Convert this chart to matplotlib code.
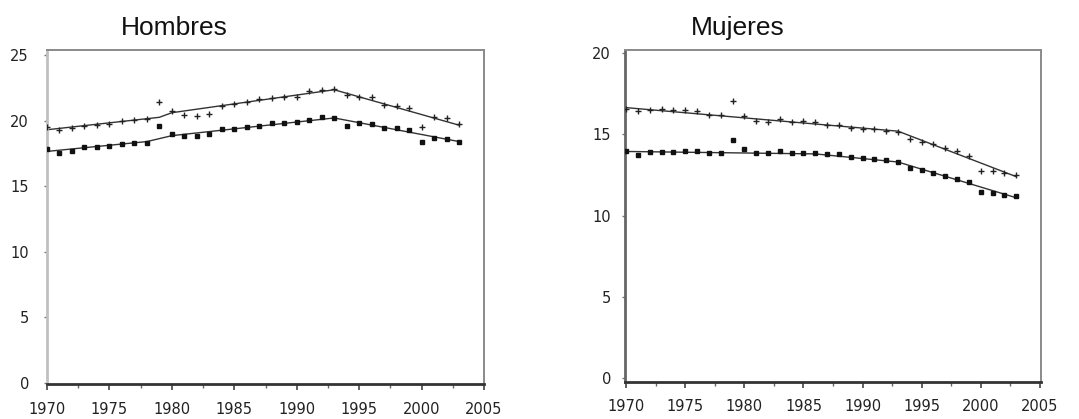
import matplotlib
matplotlib.use("Agg")
import matplotlib.pyplot as plt
import numpy as np
from matplotlib.ticker import MultipleLocator

years = list(range(1970, 2004))

# Hombres (men)
men_plus = [19.52, 19.27, 19.44, 19.62, 19.70, 19.77, 19.95, 20.03, 20.13, 21.39,
            20.71, 20.46, 20.38, 20.53, 21.09, 21.29, 21.39, 21.65, 21.72, 21.80,
            21.80, 22.23, 22.35, 22.40, 21.97, 21.80, 21.80, 21.20, 21.14, 20.96,
            19.52, 20.28, 20.20, 19.77]
men_sq = [17.85, 17.54, 17.67, 18.00, 18.00, 18.10, 18.25, 18.30, 18.30, 19.62,
          19.00, 18.80, 18.86, 18.94, 19.32, 19.32, 19.52, 19.62, 19.82, 19.82,
          19.87, 20.03, 20.28, 20.20, 19.62, 19.82, 19.77, 19.44, 19.44, 19.27,
          18.35, 18.68, 18.60, 18.35]
men_plus_trend_x = [1970, 1979, 1980, 1993, 2003]
men_plus_trend_y = [19.30, 20.25, 20.60, 22.35, 19.65]
men_sq_trend_x = [1970, 1978, 1980, 1993, 2003]
men_sq_trend_y = [17.65, 18.40, 18.85, 20.20, 18.40]

# Mujeres (women)
women_plus = [16.59, 16.43, 16.53, 16.59, 16.53, 16.49, 16.43, 16.22, 16.22, 17.04,
              16.12, 15.82, 15.76, 15.96, 15.76, 15.82, 15.78, 15.61, 15.60, 15.41,
              15.33, 15.35, 15.20, 15.15, 14.69, 14.55, 14.39, 14.15, 13.98, 13.70,
              12.76, 12.76, 12.60, 12.52]
women_sq = [13.98, 13.71, 13.92, 13.92, 13.92, 13.98, 13.98, 13.84, 13.84, 14.65,
            14.10, 13.88, 13.88, 13.98, 13.88, 13.88, 13.84, 13.78, 13.78, 13.63,
            13.57, 13.51, 13.43, 13.31, 12.96, 12.82, 12.65, 12.41, 12.24, 12.04,
            11.47, 11.39, 11.27, 11.18]
women_plus_trend_x = [1970, 1993, 2003]
women_plus_trend_y = [16.65, 15.20, 12.40]
women_sq_trend_x = [1970, 1986, 1993, 2003]
women_sq_trend_y = [13.95, 13.80, 13.30, 11.10]

W, H = 1079, 419
fig = plt.figure(figsize=(W / 100, H / 100), dpi=100)


def px_axes(x0, x1, ytop, ybot):
    return fig.add_axes([x0 / W, (H - ybot) / H, (x1 - x0) / W, (ybot - ytop) / H])


def style(ax, left_color, xpad, ypad):
    for s in ("top", "right"):
        ax.spines[s].set_color("#8a8a8a")
        ax.spines[s].set_linewidth(1.4)
    ax.spines["left"].set_color(left_color)
    ax.spines["left"].set_linewidth(2.0)
    ax.spines["bottom"].set_color("#333333")
    ax.spines["bottom"].set_linewidth(2.0)
    ax.xaxis.set_major_locator(MultipleLocator(5))
    ax.xaxis.set_minor_locator(MultipleLocator(2.5))
    ax.yaxis.set_major_locator(MultipleLocator(5))
    ax.tick_params(axis="x", which="major", direction="out", length=4, width=1.2,
                   color="#444444", pad=xpad, labelsize=10.5, labelcolor="#222222")
    ax.tick_params(axis="x", which="minor", direction="out", length=3, width=1.0,
                   color="#666666")
    ax.tick_params(axis="y", direction="out", length=2, width=1.0, color="#777777",
                   pad=ypad, labelsize=10.5, labelcolor="#222222")
    ax.tick_params(top=False, right=False)


def draw(ax, plus, sq, tpx, tpy, tsx, tsy):
    ax.plot(tpx, tpy, color="#333333", lw=1.0, zorder=2)
    ax.plot(tsx, tsy, color="#333333", lw=1.0, zorder=2)
    ax.plot(years, plus, linestyle="none", marker="+", markersize=5,
            markeredgewidth=1.0, color="#222222", zorder=3)
    ax.plot(years, sq, linestyle="none", marker="s", markersize=3.3,
            color="#111111", zorder=3)


ax1 = px_axes(47, 484, 50, 384)
draw(ax1, men_plus, men_sq, men_plus_trend_x, men_plus_trend_y,
     men_sq_trend_x, men_sq_trend_y)
ax1.set_xlim(1970, 2005)
ax1.set_ylim(-0.08, 25.38)
style(ax1, "#c0c0c0", 9, 11)

ax2 = px_axes(625, 1041, 50, 382)
draw(ax2, women_plus, women_sq, women_plus_trend_x, women_plus_trend_y,
     women_sq_trend_x, women_sq_trend_y)
ax2.set_xlim(1969.9, 2005.1)
ax2.set_ylim(-0.25, 20.2)
style(ax2, "#666666", 8, 8)

fig.text(174 / W, 1 - 28 / H, "Hombres", ha="center", va="center",
         fontsize=19, family="Liberation Sans", color="#111111")
fig.text(738 / W, 1 - 28 / H, "Mujeres", ha="center", va="center",
         fontsize=19, family="Liberation Sans", color="#111111")

fig.savefig("out.png", dpi=100, facecolor="white")
